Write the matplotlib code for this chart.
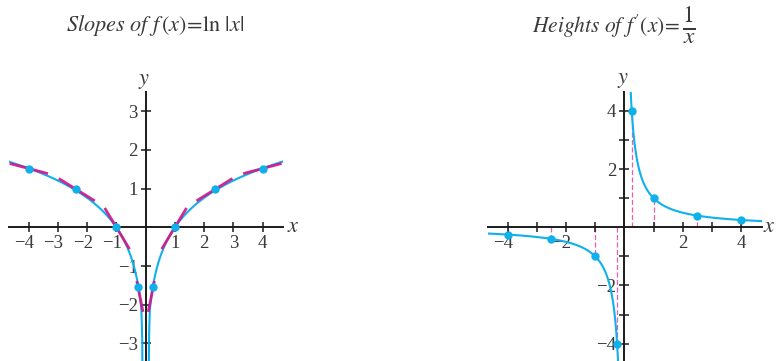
import numpy as np
import matplotlib
matplotlib.use("Agg")
import matplotlib.pyplot as plt
from matplotlib.transforms import ScaledTranslation

plt.rcParams.update({"font.family": "Liberation Serif", "mathtext.fontset": "stix",
                     "axes.unicode_minus": True})
CYAN, MAGENTA, PINK, INK, LABEL = "#0fb0ec", "#d0178b", "#ee5bb3", "#1b1b1b", "#3a3a3a"

# ---- left panel: f(x) = ln|x| with tangent (slope) segments at the dots
LN_STRETCH = 1.1                      # vertical stretch of the curve as drawn
TAIL_X = [0.125, 0.115, 0.11]         # hand-drawn steep end near the asymptote
TAIL_Y = [-2.6, -3.0, -3.6]
LEFT_PT_X = [-4, -2.37, -1, -0.26, 0.26, 1, 2.37, 4]
LEFT_PT_Y = [1.52, 0.98, 0.0, -1.54, -1.54, 0.0, 0.98, 1.52]
LEFT_SLOPE = [-0.2, -0.47, -1.25, -3.8, 3.8, 1.25, 0.47, 0.2]
LEFT_SEG_LO = [-4.65, -2.97, -1.40, -0.30, 0.09, 0.55, 1.74, 3.34]
LEFT_SEG_HI = [-3.34, -1.74, -0.55, -0.09, 0.30, 1.40, 2.97, 4.65]
LEFT_XTICKS = [-4, -3, -2, -1, 1, 2, 3, 4]
LEFT_YTICKS = [-3, -2, -1, 1, 2, 3]

# ---- right panel: f'(x) = 1/x with heights at the dots
RIGHT_PT_X = [-4, -2.5, -1, -0.25, 0.25, 1, 2.5, 4]
RIGHT_PT_Y = [-0.25, -0.4, -1, -4, 4, 1, 0.4, 0.25]
RIGHT_TICKS = [-4, -3, -2, -1, 1, 2, 3, 4]
RIGHT_LABELED = [-4, -2, 2, 4]


def fmt(v):
    return f"\u2212{abs(v)}" if v < 0 else f"{v}"


def style_axes(ax, xticks, yticks, xlab, ylab, xgap=3):
    for s in ("top", "right"):
        ax.spines[s].set_visible(False)
    for s in ("left", "bottom"):
        ax.spines[s].set_position(("data", 0))
        ax.spines[s].set_color(INK)
        ax.spines[s].set_linewidth(1.4)
    ax.set_xticks(xticks)
    ax.set_yticks(yticks)
    ax.set_xticklabels([fmt(v) if v in xlab else "" for v in xticks])
    ax.set_yticklabels([fmt(v) if v in ylab else "" for v in yticks])
    ax.tick_params(direction="inout", length=7.5, width=1.1, color=INK,
                   labelsize=13.5, labelcolor=LABEL, pad=2)
    fig = ax.figure
    # keep the digit on the tick, let the minus hang to the left
    for lbl, v in zip(ax.get_xticklabels(), xticks):
        if v < 0:
            lbl.set_transform(lbl.get_transform()
                              + ScaledTranslation(-3.2 / 72, 0, fig.dpi_scale_trans))
    ax.annotate("$x$", xy=(1, 0), xycoords=("axes fraction", "data"),
                xytext=(xgap, 0), textcoords="offset points", ha="left", va="center",
                fontsize=16, color=LABEL, annotation_clip=False)
    ax.annotate("$y$", xy=(0, 1), xycoords=("data", "axes fraction"),
                xytext=(-1, 1), textcoords="offset points", ha="center", va="bottom",
                fontsize=16, color=LABEL, annotation_clip=False)


W, H = 776, 361
fig = plt.figure(figsize=(W / 100, H / 100), dpi=100)

# left
axL = fig.add_axes([9.1 / W, 0, 273.6 / W, (H - 92.3) / H])
axL.set_xlim(-4.67, 4.69)
axL.set_ylim(-3.455, 3.49)
xr = np.linspace(0.145, 4.75, 400)
yr = LN_STRETCH * np.log(xr)
xb = np.concatenate([TAIL_X[::-1], xr])
yb = np.concatenate([TAIL_Y[::-1], yr])
axL.plot(xb, yb, color=CYAN, lw=1.5, zorder=2)
axL.plot(-xb, yb, color=CYAN, lw=1.5, zorder=2)
for x0, y0, s, lo, hi in zip(LEFT_PT_X, LEFT_PT_Y, LEFT_SLOPE, LEFT_SEG_LO, LEFT_SEG_HI):
    axL.plot([lo, hi], [y0 + s * (lo - x0), y0 + s * (hi - x0)],
             color=MAGENTA, lw=2.0, alpha=0.92, solid_capstyle="butt", zorder=3)
axL.plot(LEFT_PT_X, LEFT_PT_Y, "o", color=CYAN, ms=5, zorder=4)
style_axes(axL, LEFT_XTICKS, LEFT_YTICKS, LEFT_XTICKS, LEFT_YTICKS)

# right
axR = fig.add_axes([488.3 / W, 0, 273.4 / W, (H - 91.7) / H])
axR.set_xlim(-4.66, 4.70)
axR.set_ylim(-4.595, 4.66)
xp = np.linspace(0.2, 4.75, 400)
axR.plot(xp, 1 / xp, color=CYAN, lw=1.5, zorder=2)
axR.plot(-xp, -1 / xp, color=CYAN, lw=1.5, zorder=2)
axR.vlines(RIGHT_PT_X, 0, RIGHT_PT_Y, color=PINK, lw=0.9,
           linestyles=(0, (4, 2)), zorder=1)
axR.plot(RIGHT_PT_X, RIGHT_PT_Y, "o", color=CYAN, ms=5, zorder=4)
style_axes(axR, RIGHT_TICKS, RIGHT_TICKS, RIGHT_LABELED, RIGHT_LABELED, xgap=1)

fig.text(155 / W, 1 - 26 / H, r"$\mathit{Slopes\ of}\ f\,(x)\!=\!\ln\,|x|$",
         ha="center", va="center", fontsize=16, color=LABEL)
fig.text(680 / W, 1 - 26 / H, r"$\mathit{Heights\ of}\ f'(x)\!=$",
         ha="right", va="center", fontsize=15.5, color=LABEL)
fig.text(689 / W, 1 - 25 / H, r"$\frac{1}{x}$",
         ha="center", va="center", fontsize=24, color=LABEL)

fig.savefig("out.png", dpi=100)
